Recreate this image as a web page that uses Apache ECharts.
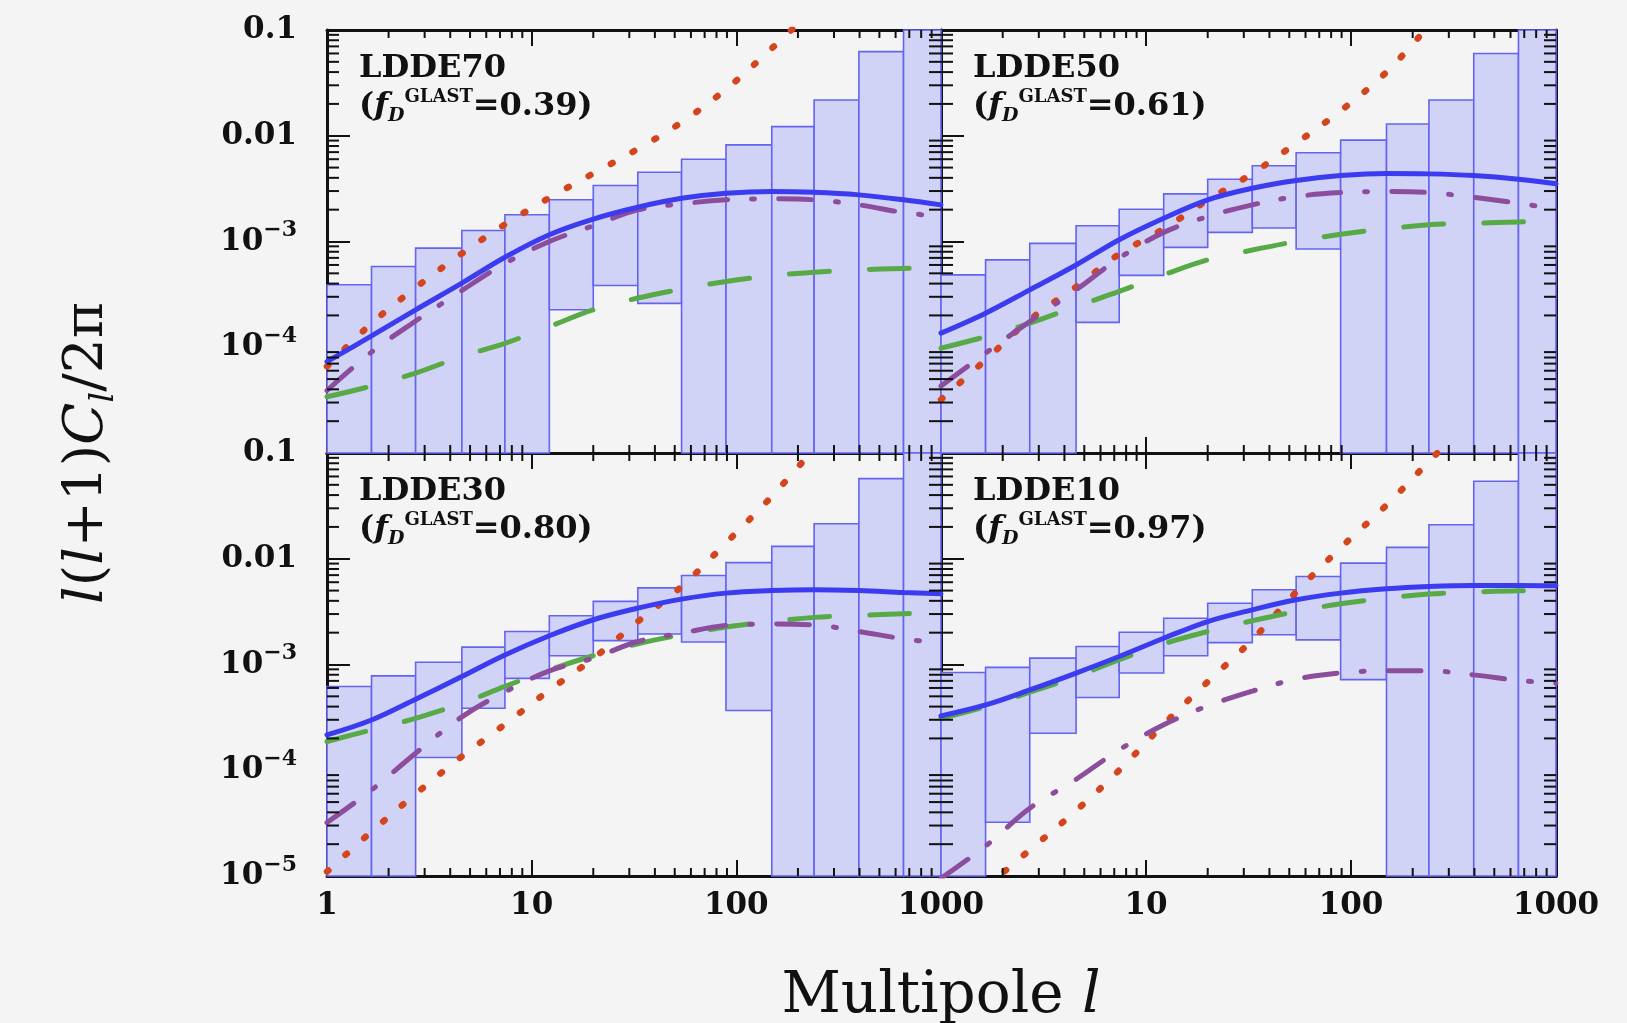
<!DOCTYPE html>
<html>
<head>
<meta charset="utf-8">
<script src="https://cdn.jsdelivr.net/npm/echarts@6/dist/echarts.min.js"></script>
<style>
html,body{margin:0;padding:0;background:#f4f4f4;}
#c{width:1627px;height:1023px;}
</style>
</head>
<body>
<div id="c"></div>
<script>
// ---------------- DATA ----------------
const X_MIN = 1, X_MAX = 1000, Y_MIN = 1e-5, Y_MAX = 0.1;
// multipole bin edges (also the l grid on which the curves are read)
const binEdges = [1, 1.65, 2.71, 4.56, 7.4, 12.2, 20, 33, 54, 89, 149, 240, 397, 656, 1000];
const panelNames = ['LDDE70', 'LDDE50', 'LDDE30', 'LDDE10'];
const panelFD = ['0.39', '0.61', '0.80', '0.97'];
const xTickLabels = ['1', '10', '100', '1000'];
const yTickLabels = ['10^−5', '10^−4', '10^−3', '0.01', '0.1'];

// error boxes: null = box runs past the axis (below min / above max)
const boxLow70  = [null, null, null, null, null, 2.26e-4, 3.84e-4, 2.6e-4, null, null, null, null, null, null];
const boxHigh70 = [3.9e-4, 5.8e-4, 8.65e-4, 1.27e-3, 1.79e-3, 2.48e-3, 3.38e-3, 4.52e-3, 6.0e-3, 8.2e-3, 0.0122, 0.0218, 0.0624, null];
const boxLow50  = [null, null, null, 1.72e-4, 4.78e-4, 8.8e-4, 1.22e-3, 1.34e-3, 8.5e-4, null, null, null, null, null];
const boxHigh50 = [4.84e-4, 6.7e-4, 9.6e-4, 1.41e-3, 2.02e-3, 2.82e-3, 3.88e-3, 5.2e-3, 6.9e-3, 9.1e-3, 0.0129, 0.0218, 0.060, null];
const boxLow30  = [null, null, 1.32e-4, 3.86e-4, 7.4e-4, 1.21e-3, 1.68e-3, 1.94e-3, 1.63e-3, 3.67e-4, null, null, null, null];
const boxHigh30 = [6.2e-4, 7.8e-4, 1.05e-3, 1.46e-3, 2.05e-3, 2.89e-3, 3.95e-3, 5.3e-3, 6.95e-3, 9.2e-3, 0.0131, 0.0214, 0.0572, null];
const boxLow10  = [null, 3.22e-5, 2.24e-4, 4.88e-4, 8.3e-4, 1.21e-3, 1.61e-3, 1.91e-3, 1.71e-3, 7.2e-4, null, null, null, null];
const boxHigh10 = [8.4e-4, 9.4e-4, 1.15e-3, 1.48e-3, 2.02e-3, 2.74e-3, 3.8e-3, 5.09e-3, 6.8e-3, 9.1e-3, 0.0128, 0.021, 0.054, null];

// curves, read at binEdges
const solid70   = [7.3e-5, 1.28e-4, 2.26e-4, 4.04e-4, 7.1e-4, 1.16e-3, 1.63e-3, 2.11e-3, 2.56e-3, 2.86e-3, 2.97e-3, 2.92e-3, 2.76e-3, 2.48e-3, 2.22e-3];
const dashDot70 = [3.9e-5, 9.0e-5, 1.77e-4, 3.44e-4, 6.2e-4, 1.0e-3, 1.41e-3, 1.99e-3, 2.27e-3, 2.48e-3, 2.53e-3, 2.48e-3, 2.22e-3, 1.88e-3, 1.72e-3];
const dashed70  = [3.4e-5, 4.3e-5, 5.7e-5, 8.2e-5, 1.09e-4, 1.57e-4, 2.26e-4, 2.92e-4, 3.55e-4, 4.19e-4, 4.74e-4, 5.13e-4, 5.4e-4, 5.56e-4, 5.6e-4];
const dotted70  = [6.6e-5, 1.68e-4, 3.66e-4, 7.7e-4, 1.45e-3, 2.59e-3, 4.4e-3, 7.5e-3, 0.0134, 0.0275, 0.067, 0.16, null, null, null];

const solid50   = [1.36e-4, 2.1e-4, 3.49e-4, 6.0e-4, 1.04e-3, 1.66e-3, 2.48e-3, 3.19e-3, 3.77e-3, 4.2e-3, 4.4e-3, 4.36e-3, 4.2e-3, 3.88e-3, 3.51e-3];
const dashDot50 = [4.3e-5, 8.8e-5, 1.75e-4, 3.49e-4, 6.96e-4, 1.22e-3, 1.72e-3, 2.22e-3, 2.66e-3, 2.9e-3, 2.97e-3, 2.9e-3, 2.62e-3, 2.3e-3, 2.02e-3];
const dashed50  = [9.8e-5, 1.26e-4, 1.69e-4, 2.43e-4, 3.37e-4, 4.84e-4, 6.7e-4, 8.3e-4, 1.0e-3, 1.17e-3, 1.32e-3, 1.44e-3, 1.49e-3, 1.53e-3, 1.55e-3];
const dotted50  = [3.2e-5, 7.6e-5, 1.82e-4, 3.73e-4, 7.6e-4, 1.32e-3, 2.46e-3, 4.4e-3, 8.5e-3, 0.0172, 0.040, 0.11, null, null, null];

const solid30   = [2.16e-4, 2.99e-4, 4.7e-4, 7.7e-4, 1.23e-3, 1.87e-3, 2.65e-3, 3.41e-3, 4.15e-3, 4.73e-3, 5.0e-3, 5.09e-3, 5.0e-3, 4.8e-3, 4.66e-3];
const dashDot30 = [3.2e-5, 6.5e-5, 1.45e-4, 3.2e-4, 5.5e-4, 8.7e-4, 1.15e-3, 1.65e-3, 1.98e-3, 2.34e-3, 2.41e-3, 2.37e-3, 2.05e-3, 1.75e-3, 1.59e-3];
const dashed30  = [1.87e-4, 2.41e-4, 3.1e-4, 4.3e-4, 6.2e-4, 8.9e-4, 1.21e-3, 1.57e-3, 1.91e-3, 2.26e-3, 2.55e-3, 2.79e-3, 2.91e-3, 3.02e-3, 3.06e-3];
const dotted30  = [1.1e-5, 2.63e-5, 5.97e-5, 1.35e-4, 2.72e-4, 5.71e-4, 1.14e-3, 2.55e-3, 5.47e-3, 0.0141, 0.0389, 0.11, null, null, null];

const solid10   = [3.27e-4, 4.15e-4, 5.75e-4, 8.3e-4, 1.19e-3, 1.77e-3, 2.55e-3, 3.29e-3, 4.09e-3, 4.73e-3, 5.2e-3, 5.47e-3, 5.6e-3, 5.6e-3, 5.55e-3];
const dashDot10 = [9.5e-6, 1.92e-5, 4.37e-5, 8.2e-5, 1.56e-4, 2.69e-4, 4.06e-4, 5.6e-4, 7.27e-4, 8.34e-4, 8.71e-4, 8.71e-4, 7.98e-4, 7.06e-4, 6.66e-4];
const dashed10  = [3.1e-4, 4.0e-4, 5.47e-4, 7.7e-4, 1.11e-3, 1.57e-3, 2.05e-3, 2.59e-3, 3.17e-3, 3.75e-3, 4.25e-3, 4.63e-3, 4.84e-3, 4.98e-3, 5.0e-3];
const dotted10  = [null, 7.8e-6, 1.76e-5, 4.15e-5, 1.0e-4, 2.72e-4, 6.86e-4, 1.71e-3, 4.84e-3, 0.0127, 0.0322, 0.083, 0.22, null, null];

const boxLows  = [boxLow70, boxLow50, boxLow30, boxLow10];
const boxHighs = [boxHigh70, boxHigh50, boxHigh30, boxHigh10];
const solids   = [solid70, solid50, solid30, solid10];
const dashDots = [dashDot70, dashDot50, dashDot30, dashDot10];
const dasheds  = [dashed70, dashed50, dashed30, dashed10];
const dotteds  = [dotted70, dotted50, dotted30, dotted10];

// ---------------- STYLE / LAYOUT ----------------
const INK = '#111111';
const SERIF = 'DejaVu Serif';
const GRIDS = [
  {left: 327, top: 30, width: 614, height: 423},
  {left: 941, top: 30, width: 615, height: 423},
  {left: 327, top: 453, width: 614, height: 423},
  {left: 941, top: 453, width: 615, height: 423}
];
const MAJOR_X = 16, MINOR_X = 8, MAJOR_Y = 23, MINOR_Y = 12;

const minorX = [];
[1, 10, 100].forEach(d => { for (let k = 2; k <= 9; k++) minorX.push(k * d); });
const minorY = [];
[1e-5, 1e-4, 1e-3, 1e-2].forEach(d => { for (let k = 2; k <= 9; k++) minorY.push(k * d); });

function xLabel(v) { return xTickLabels[Math.round(Math.log10(v))]; }
function yLabel(v) {
  const s = yTickLabels[Math.round(Math.log10(v)) + 5];
  if (!s) return '';
  if (s.indexOf('^') >= 0) { const p = s.split('^'); return '{b|' + p[0] + '}{s|' + p[1] + '}'; }
  return '{b|' + s + '}';
}

const xAxes = [], yAxes = [];
GRIDS.forEach((g, gi) => {
  ['bottom', 'top'].forEach(pos => {
    xAxes.push({
      type: 'log', logBase: 10, gridIndex: gi, position: pos, min: X_MIN, max: X_MAX,
      axisLine: {show: true, onZero: false, lineStyle: {color: INK, width: 3}},
      axisTick: {show: true, inside: true, length: MAJOR_X, lineStyle: {color: INK, width: 2}},
      minorTick: {show: false}, splitLine: {show: false},
      axisLabel: {
        show: pos === 'bottom' && gi >= 2, showMinLabel: gi !== 3, margin: 14,
        fontFamily: SERIF, fontSize: 31, fontWeight: 'bold', color: INK, formatter: xLabel
      }
    });
  });
  ['left', 'right'].forEach(pos => {
    yAxes.push({
      type: 'log', logBase: 10, gridIndex: gi, position: pos, min: Y_MIN, max: Y_MAX,
      axisLine: {show: true, onZero: false, lineStyle: {color: INK, width: 3}},
      axisTick: {show: true, inside: true, length: MAJOR_Y, lineStyle: {color: INK, width: 2}},
      minorTick: {show: false}, splitLine: {show: false},
      axisLabel: {
        show: pos === 'left' && (gi === 0 || gi === 2), showMinLabel: gi === 2, margin: 30,
        fontFamily: SERIF, color: INK, formatter: yLabel,
        rich: {
          b: {fontFamily: SERIF, fontSize: 31, fontWeight: 'bold', color: INK, lineHeight: 44},
          s: {fontFamily: SERIF, fontSize: 22, fontWeight: 'bold', color: INK, lineHeight: 22, verticalAlign: 'top'}
        }
      }
    });
  });
});

function renderBox(params, api) {
  const a = api.coord([api.value(0), api.value(3)]);
  const b = api.coord([api.value(1), api.value(2)]);
  const cs = params.coordSys;
  const shape = echarts.graphic.clipRectByRect(
    {x: a[0], y: a[1], width: b[0] - a[0], height: b[1] - a[1]},
    {x: cs.x, y: cs.y, width: cs.width, height: cs.height});
  if (!shape) return null;
  return {type: 'rect', shape: shape, style: {fill: '#d0d2f6', stroke: '#6464f0', lineWidth: 1.6}};
}

function renderMinor(params, api) {
  const cs = params.coordSys;
  const st = {stroke: INK, lineWidth: 2};
  if (api.value(2) === 0) {
    const px = api.coord([api.value(0), Y_MIN])[0];
    const yb = cs.y + cs.height, yt = cs.y;
    return {type: 'group', children: [
      {type: 'line', shape: {x1: px, y1: yb, x2: px, y2: yb - MINOR_X}, style: st},
      {type: 'line', shape: {x1: px, y1: yt, x2: px, y2: yt + MINOR_X}, style: st}
    ]};
  }
  const py = api.coord([X_MIN, api.value(1)])[1];
  const xl = cs.x, xr = cs.x + cs.width;
  return {type: 'group', children: [
    {type: 'line', shape: {x1: xl, y1: py, x2: xl + MINOR_Y, y2: py}, style: st},
    {type: 'line', shape: {x1: xr, y1: py, x2: xr - MINOR_Y, y2: py}, style: st}
  ]};
}

const series = [];
const graphics = [];
GRIDS.forEach((g, gi) => {
  const xi = gi * 2, yi = gi * 2;
  const boxes = [];
  for (let i = 0; i < binEdges.length - 1; i++) {
    const lo = boxLows[gi][i] == null ? Y_MIN : boxLows[gi][i];
    const hi = boxHighs[gi][i] == null ? Y_MAX : boxHighs[gi][i];
    boxes.push([binEdges[i], binEdges[i + 1], lo, hi]);
  }
  series.push({
    type: 'custom', xAxisIndex: xi, yAxisIndex: yi, renderItem: renderBox,
    encode: {x: [0, 1], y: [2, 3]}, data: boxes, silent: true, z: 2
  });
  const mk = (arr, color, width, type) => ({
    type: 'line', xAxisIndex: xi, yAxisIndex: yi, symbol: 'none', showSymbol: false,
    smooth: 0.35, silent: true, z: 3, clip: true,
    data: binEdges.map((x, i) => [x, arr[i]]),
    lineStyle: {color: color, width: width, type: type, cap: 'round'}
  });
  series.push(mk(dotteds[gi], '#d5451d', 6.5, [2, 23]));
  series.push(mk(dasheds[gi], '#58aa47', 5, [40, 40]));
  series.push(mk(dashDots[gi], '#8c4d9c', 5, [33, 24, 3, 24]));
  series.push(mk(solids[gi], '#3b3bef', 5, 'solid'));
  const ticks = minorX.map(v => [v, Y_MIN, 0]).concat(minorY.map(v => [X_MIN, v, 1]));
  series.push({
    type: 'custom', xAxisIndex: xi, yAxisIndex: yi, renderItem: renderMinor,
    encode: {x: 0, y: 1}, data: ticks, silent: true, z: 6
  });

  graphics.push({
    type: 'text', x: g.left + 32, y: g.top + 39, silent: true, z: 10,
    style: {text: panelNames[gi], fontFamily: SERIF, fontSize: 32, fontWeight: 'bold', fill: INK,
      align: 'left', verticalAlign: 'middle', textAlign: 'left', textVerticalAlign: 'middle'}
  });
  graphics.push({
    type: 'text', x: g.left + 32, y: g.top + 77, silent: true, z: 10,
    style: {
      text: '{p|(}{f|f}{sub|D}{sup|GLAST}{p|=' + panelFD[gi] + ')}',
      align: 'left', verticalAlign: 'middle', textAlign: 'left', textVerticalAlign: 'middle',
      fill: INK,
      rich: {
        p: {fontFamily: SERIF, fontSize: 32, fontWeight: 'bold', fill: INK, color: INK, lineHeight: 38},
        f: {fontFamily: SERIF, fontStyle: 'italic', fontSize: 32, fontWeight: 'bold', fill: INK, color: INK, lineHeight: 38},
        sub: {fontFamily: SERIF, fontStyle: 'italic', fontWeight: 'bold', fontSize: 19, fill: INK, color: INK, lineHeight: 18, verticalAlign: 'bottom'},
        sup: {fontFamily: SERIF, fontWeight: 'bold', fontSize: 18, fill: INK, color: INK, lineHeight: 18, verticalAlign: 'top'}
      }
    }
  });
});

// axis titles
graphics.push({
  type: 'text', x: 88, y: 453, rotation: Math.PI / 2, silent: true,
  style: {
    text: '{i|l}{n|(}{i|l}{n|+1)}{i|C}{sb|l}{n|/2π}',
    align: 'center', verticalAlign: 'middle', textAlign: 'center', textVerticalAlign: 'middle',
    fill: INK,
    rich: {
      i: {fontFamily: SERIF, fontStyle: 'italic', fontSize: 55, fill: INK, color: INK, lineHeight: 66},
      n: {fontFamily: SERIF, fontSize: 55, fill: INK, color: INK, lineHeight: 66},
      sb: {fontFamily: SERIF, fontStyle: 'italic', fontSize: 34, fill: INK, color: INK, lineHeight: 34, verticalAlign: 'bottom'}
    }
  }
});
graphics.push({
  type: 'text', x: 941, y: 997, silent: true,
  style: {
    text: '{n|Multipole }{i|l}',
    align: 'center', verticalAlign: 'middle', textAlign: 'center', textVerticalAlign: 'middle',
    fill: INK,
    rich: {
      n: {fontFamily: SERIF, fontSize: 58, fill: INK, color: INK},
      i: {fontFamily: SERIF, fontStyle: 'italic', fontSize: 58, fill: INK, color: INK}
    }
  }
});

const chart = echarts.init(document.getElementById('c'), null, {renderer: 'canvas'});
chart.setOption({
  backgroundColor: '#f4f4f4',
  animation: false,
  grid: GRIDS.map(g => Object.assign({containLabel: false, outerBoundsMode: 'none'}, g)),
  xAxis: xAxes,
  yAxis: yAxes,
  series: series,
  graphic: graphics
});
</script>
</body>
</html>
